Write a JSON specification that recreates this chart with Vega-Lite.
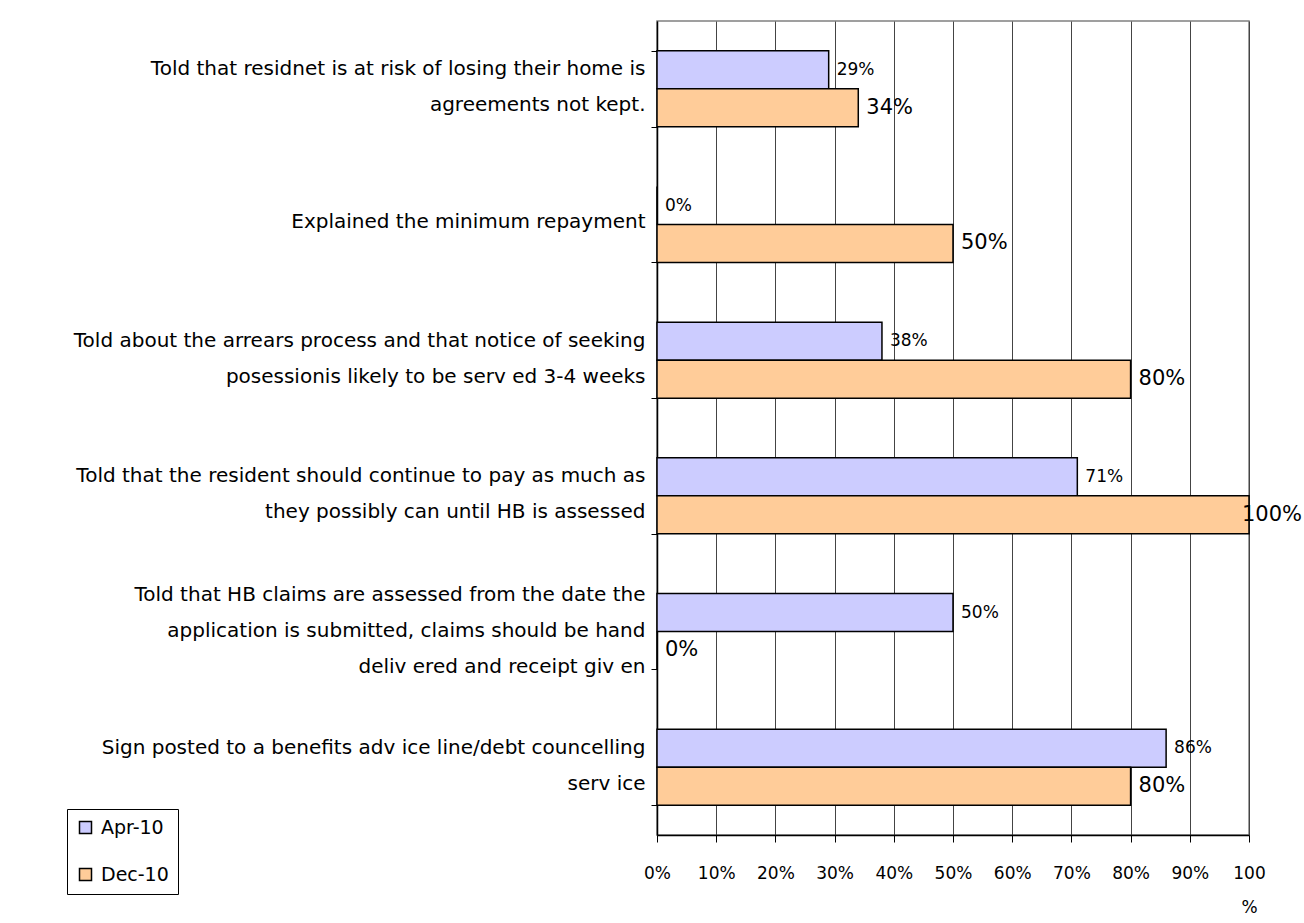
{
  "$schema": "https://vega.github.io/schema/vega-lite/v6.json",
  "width": 592,
  "height": 814,
  "autosize": {"type": "none"},
  "padding": {"left": 657, "top": 21, "right": 55, "bottom": 88},
  "background": "white",
  "config": {
    "font": "DejaVu Sans",
    "view": {"stroke": "#808080", "strokeWidth": 1.5}
  },
  "data": {
    "values": [
      {"cat": "Told that residnet is at risk of losing their home is|agreements not kept.", "series": "Apr-10", "value": 0.29},
      {"cat": "Told that residnet is at risk of losing their home is|agreements not kept.", "series": "Dec-10", "value": 0.34},
      {"cat": "Explained the minimum repayment", "series": "Apr-10", "value": 0.0},
      {"cat": "Explained the minimum repayment", "series": "Dec-10", "value": 0.5},
      {"cat": "Told about the arrears process and that notice of seeking|posessionis likely to be serv ed 3-4 weeks", "series": "Apr-10", "value": 0.38},
      {"cat": "Told about the arrears process and that notice of seeking|posessionis likely to be serv ed 3-4 weeks", "series": "Dec-10", "value": 0.8},
      {"cat": "Told that the resident should continue to pay as much as|they possibly can until HB is assessed", "series": "Apr-10", "value": 0.71},
      {"cat": "Told that the resident should continue to pay as much as|they possibly can until HB is assessed", "series": "Dec-10", "value": 1.0},
      {"cat": "Told that HB claims are assessed from the date the|application is submitted, claims should be hand|deliv ered and receipt giv en", "series": "Apr-10", "value": 0.5},
      {"cat": "Told that HB claims are assessed from the date the|application is submitted, claims should be hand|deliv ered and receipt giv en", "series": "Dec-10", "value": 0.0},
      {"cat": "Sign posted to a benefits adv ice line/debt councelling|serv ice", "series": "Apr-10", "value": 0.86},
      {"cat": "Sign posted to a benefits adv ice line/debt councelling|serv ice", "series": "Dec-10", "value": 0.8}
    ]
  },
  "encoding": {
    "y": {
      "field": "cat",
      "type": "nominal",
      "sort": null,
      "scale": {"paddingInner": 0.44, "paddingOuter": 0.22},
      "axis": {
        "title": null,
        "labelExpr": "isString(datum.value) ? split(datum.value, '|') : ''",
        "labelFontSize": 20,
        "labelLineHeight": 36,
        "labelLimit": 700,
        "labelColor": "black",
        "labelPadding": 6,
        "labelBaseline": "middle",
        "labelOffset": {
          "condition": [
            {"test": "isString(datum.value) && length(split(datum.value, '|')) == 3", "value": -37},
            {"test": "isString(datum.value) && length(split(datum.value, '|')) == 2", "value": -20}
          ],
          "value": -3
        },
        "tickBand": "extent",
        "tickSize": 6,
        "tickColor": "black",
        "domainColor": "black",
        "domainWidth": 1.5,
        "grid": false
      }
    },
    "yOffset": {"field": "series", "type": "nominal", "scale": {"paddingInner": 0, "paddingOuter": 0}},
    "x": {
      "field": "value",
      "type": "quantitative",
      "scale": {"domain": [0, 1], "nice": false},
      "axis": {
        "title": null,
        "format": ".0%",
        "values": [0, 0.1, 0.2, 0.3, 0.4, 0.5, 0.6, 0.7, 0.8, 0.9, 1.0],
        "labelExpr": "datum.value == 1 ? ['100', '%'] : datum.label",
        "labelFlush": false,
        "labelOverlap": false,
        "labelFontSize": 17,
        "labelLineHeight": 34,
        "labelColor": "black",
        "labelPadding": 31,
        "labelBaseline": "middle",
        "tickSize": 7,
        "tickColor": "black",
        "domainColor": "black",
        "domainWidth": 1.5,
        "grid": true,
        "gridColor": "#444444",
        "gridWidth": 1
      }
    }
  },
  "layer": [
    {
      "mark": {"type": "bar", "stroke": "black", "strokeWidth": 1.5},
      "encoding": {
        "color": {
          "field": "series",
          "type": "nominal",
          "scale": {"domain": ["Apr-10", "Dec-10"], "range": ["#CCCCFF", "#FFCC99"]},
          "legend": {
            "title": null,
            "orient": "none",
            "legendX": -590,
            "legendY": 788,
            "symbolType": "square",
            "symbolSize": 144,
            "symbolStrokeColor": "black",
            "symbolStrokeWidth": 1.5,
            "symbolOpacity": 1,
            "labelFontSize": 19,
            "labelColor": "black",
            "labelOffset": 6,
            "rowPadding": 27,
            "padding": 9,
            "strokeColor": "black",
            "fillColor": "white"
          }
        }
      }
    },
    {
      "transform": [{"filter": "datum.series == 'Apr-10'"}],
      "mark": {"type": "text", "align": "left", "baseline": "middle", "dx": 8, "fontSize": 17, "color": "black"},
      "encoding": {
        "text": {"field": "value", "type": "quantitative", "format": ".0%"}
      }
    },
    {
      "transform": [{"filter": "datum.series == 'Dec-10' && datum.value < 1"}],
      "mark": {"type": "text", "align": "left", "baseline": "middle", "dx": 8, "fontSize": 21, "color": "black"},
      "encoding": {
        "text": {"field": "value", "type": "quantitative", "format": ".0%"}
      }
    },
    {
      "transform": [{"filter": "datum.series == 'Dec-10' && datum.value >= 1"}],
      "mark": {"type": "text", "align": "left", "baseline": "middle", "dx": -7, "fontSize": 21, "color": "black"},
      "encoding": {
        "text": {"field": "value", "type": "quantitative", "format": ".0%"}
      }
    }
  ]
}
